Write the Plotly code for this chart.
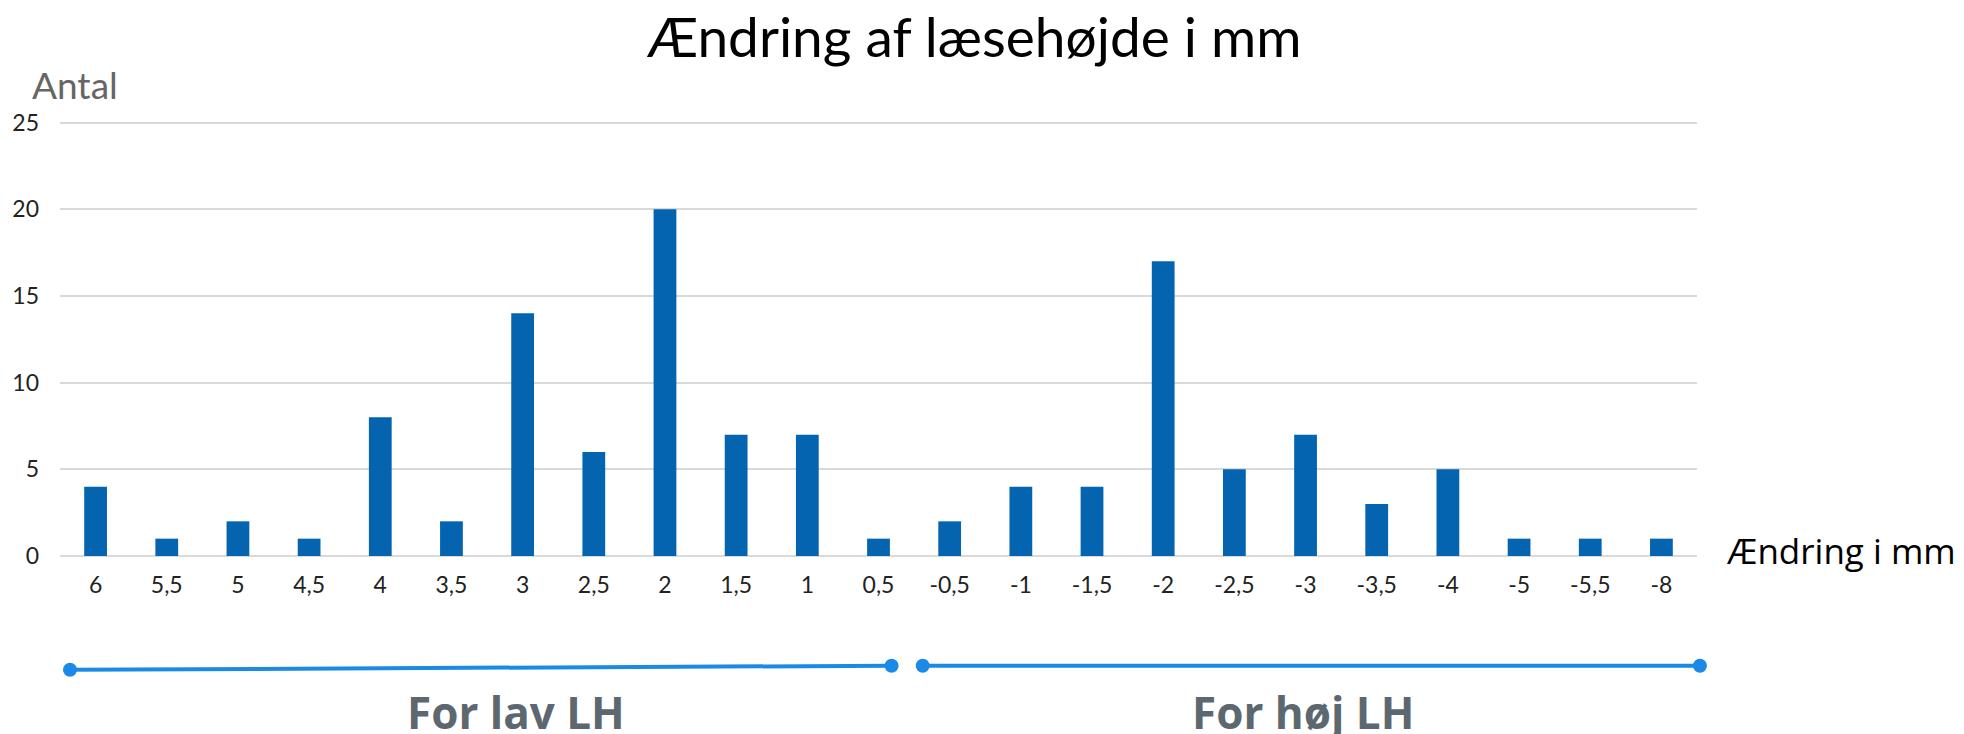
import plotly.graph_objects as go

# Ændring i mm (kategorier) og antal
aendring = ['6', '5,5', '5', '4,5', '4', '3,5', '3', '2,5', '2', '1,5', '1', '0,5',
            '-0,5', '-1', '-1,5', '-2', '-2,5', '-3', '-3,5', '-4', '-5', '-5,5', '-8']
antal = [4, 1, 2, 1, 8, 2, 14, 6, 20, 7, 7, 1,
         2, 4, 4, 17, 5, 7, 3, 5, 1, 1, 1]
y_ticks = [0, 5, 10, 15, 20, 25]

grupper = ['For lav LH', 'For høj LH']

fig = go.Figure()
fig.add_trace(go.Bar(x=aendring, y=antal, marker_color='#0464B0',
                     marker_line_width=0, showlegend=False))

# siden har 8 px body-margen, derfor er alt flyttet 8 px op/venstre
fig.update_layout(
    width=1964, height=734,
    margin=dict(l=52, r=275, t=112, b=186),
    paper_bgcolor='white', plot_bgcolor='white',
    bargap=0.68,
    font=dict(family='Lato', color='#222222'),
    title=dict(text='Ændring af læsehøjde i mm', x=0.492, xanchor='center',
               y=1 - 30 / 734, yanchor='middle',
               font=dict(family='Lato', size=55, color='black')),
)
fig.update_xaxes(type='category', showgrid=False, showline=False, automargin=False,
                 tickfont=dict(size=23, color='#222222'),
                 ticks='', ticklabelstandoff=13)
fig.update_yaxes(range=[0, 25.15], tickvals=y_ticks, showgrid=True, automargin=False,
                 gridcolor='#d9d9d9', gridwidth=1.5,
                 zeroline=True, zerolinecolor='#d9d9d9', zerolinewidth=2,
                 showline=False, tickfont=dict(size=23, color='#222222'),
                 ticklabelstandoff=20)

# aksetitler
fig.add_annotation(text='Antal', xref='paper', yref='paper', x=-0.0185, y=1.082,
                   xanchor='left', yanchor='middle', showarrow=False,
                   font=dict(family='Lato', size=37, color='#666666'))
fig.add_annotation(text='Ændring i mm', xref='paper', yref='paper', x=1.0165, y=0.0115,
                   xanchor='left', yanchor='middle', showarrow=False,
                   font=dict(family='Open Sans', size=35, color='black'))

# klammer under aksen
blaa = '#1A8AE6'
klammer = [(0.0061, -0.261, 0.508, -0.2517), (0.527, -0.2517, 1.0018, -0.2517)]
for x0, y0, x1, y1 in klammer:
    fig.add_shape(type='line', xref='paper', yref='paper', x0=x0, y0=y0, x1=x1, y1=y1,
                  line=dict(color=blaa, width=4))
    for px, py in [(x0, y0), (x1, y1)]:
        fig.add_shape(type='circle', xref='paper', yref='paper',
                      xsizemode='pixel', ysizemode='pixel',
                      xanchor=px, yanchor=py, x0=-7, x1=7, y0=-7, y1=7,
                      fillcolor=blaa, line=dict(color=blaa, width=0))

for navn, xc in zip(grupper, [0.2786, 0.7593]):
    fig.add_annotation(text='<b>' + navn + '</b>', xref='paper', yref='paper',
                       x=xc, y=-0.358, xanchor='center', yanchor='middle',
                       showarrow=False,
                       font=dict(family='Open Sans', size=44, color='#5D6770'))

fig.write_html("out.html")
